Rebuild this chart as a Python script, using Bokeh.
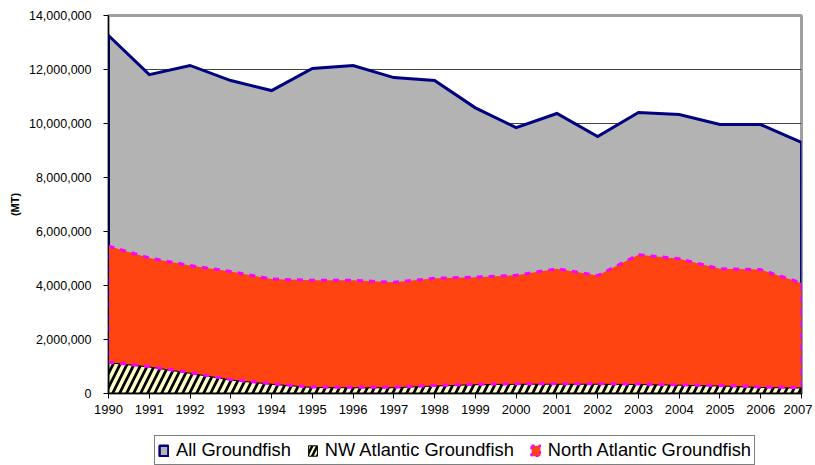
from bokeh.plotting import figure
from bokeh.models import Legend, LegendItem, NumeralTickFormatter, FixedTicker, Range1d
from bokeh.layouts import column
from bokeh.embed import file_html
from bokeh.resources import INLINE

years = list(range(1990, 2008))
all_groundfish = [13260000, 11810000, 12150000, 11590000, 11220000, 12040000, 12150000,
                  11700000, 11590000, 10580000, 9850000, 10370000, 9520000, 10410000,
                  10330000, 9960000, 9960000, 9300000]
north_atlantic = [5460000, 5020000, 4740000, 4520000, 4240000, 4190000, 4190000,
                  4120000, 4270000, 4310000, 4380000, 4620000, 4370000, 5140000,
                  4990000, 4620000, 4590000, 4090000]
nw_atlantic = [1160000, 1000000, 770000, 520000, 360000, 240000, 230000,
               230000, 300000, 340000, 360000, 360000, 360000, 350000,
               320000, 300000, 240000, 220000]
y_ticks = list(range(0, 14000001, 2000000))
series_names = ["All Groundfish", "NW Atlantic Groundfish", "North Atlantic Groundfish"]

FONT = "Liberation Sans"
GRAY, NAVY, RED, MAGENTA, CREAM = "#B3B3B3", "#000080", "#FF4411", "#FF00FF", "#FFFFC8"

# polygons built from the data
xs_all = years + [years[-1], years[0]]
ys_all = all_groundfish + [0, 0]
xs_nw = years + years[::-1]
ys_nw = nw_atlantic + [0] * len(years)
xs_na = years + years[::-1]
ys_na = north_atlantic + nw_atlantic[::-1]

p = figure(width=812, height=420, output_backend="svg", toolbar_location=None,
           x_range=Range1d(years[0], years[-1]), y_range=Range1d(0, 14000000),
           min_border_left=108, min_border_right=11, min_border_top=15, min_border_bottom=27,
           background_fill_color="white", border_fill_color="white")

p.patch(xs_all, ys_all, fill_color=GRAY, line_color=NAVY, line_width=3, line_join="miter")
p.patch(xs_nw, ys_nw, fill_color="black", line_color="black", line_width=2,
        hatch_pattern="/", hatch_color=CREAM, hatch_scale=14, hatch_weight=3.5)
p.patch(xs_na, ys_na, fill_color=RED, line_color=MAGENTA, line_width=3, line_dash="6 6")

# axes
p.xaxis.ticker = FixedTicker(ticks=years)
p.yaxis.ticker = FixedTicker(ticks=y_ticks)
p.yaxis.formatter = NumeralTickFormatter(format="0,0")
for ax in (p.xaxis[0], p.yaxis[0]):
    ax.axis_line_color = "black"
    ax.axis_line_width = 1
    ax.major_tick_out = 5
    ax.major_tick_in = 0
    ax.minor_tick_out = 0
    ax.minor_tick_in = 0
    ax.major_tick_line_color = "black"
    ax.major_label_text_font = FONT
    ax.major_label_text_color = "black"
    ax.major_label_text_font_size = "12.5px"
p.xaxis.major_label_text_font_size = "13px"
p.yaxis.major_label_standoff = 12
p.xaxis.major_label_standoff = 6
p.yaxis.axis_label = "(MT)"
p.yaxis.axis_label_text_font = FONT
p.yaxis.axis_label_text_font_style = "bold"
p.yaxis.axis_label_text_font_size = "11px"
p.yaxis.axis_label_text_color = "black"
p.yaxis.axis_label_standoff = 5

p.xgrid.grid_line_color = None
p.ygrid.ticker = FixedTicker(ticks=y_ticks)
p.ygrid.grid_line_color = "#444444"
p.ygrid.grid_line_width = 1

p.outline_line_color = "#A0A0A0"
p.outline_line_width = 3

# legend strip below the chart (its key glyphs are the same series, kept out of view)
leg = figure(width=812, height=45, output_backend="svg", toolbar_location=None,
             x_range=Range1d(0, 1), y_range=Range1d(0, 1),
             x_axis_type=None, y_axis_type=None,
             min_border_left=0, min_border_right=0, min_border_top=0, min_border_bottom=0,
             outline_line_color=None, background_fill_color="white",
             border_fill_color="white")
leg.grid.visible = False
k_all = leg.patch(xs_all, ys_all, fill_color=GRAY, line_color=NAVY, line_width=2.5)
k_nw = leg.patch(xs_nw, ys_nw, fill_color="black", line_color="black", line_width=1,
                 hatch_pattern="/", hatch_color=CREAM, hatch_scale=10, hatch_weight=2)
k_na = leg.patch(xs_na, ys_na, fill_color=RED, line_color=MAGENTA, line_width=2.5,
                 line_dash="3 4")

legend = Legend(items=[LegendItem(label=series_names[0], renderers=[k_all]),
                       LegendItem(label=series_names[1], renderers=[k_nw]),
                       LegendItem(label=series_names[2], renderers=[k_na])],
                orientation="horizontal", location=(46, 0),
                label_text_font=FONT, label_text_font_size="18.3px",
                label_text_color="black",
                label_standoff=7, glyph_width=11, glyph_height=13,
                spacing=16, padding=3, margin=0,
                border_line_color="black", border_line_width=1,
                background_fill_color="white")
leg.add_layout(legend, "center")

layout = column(p, leg, spacing=0)
open("out.html", "w").write(file_html(layout, INLINE))
